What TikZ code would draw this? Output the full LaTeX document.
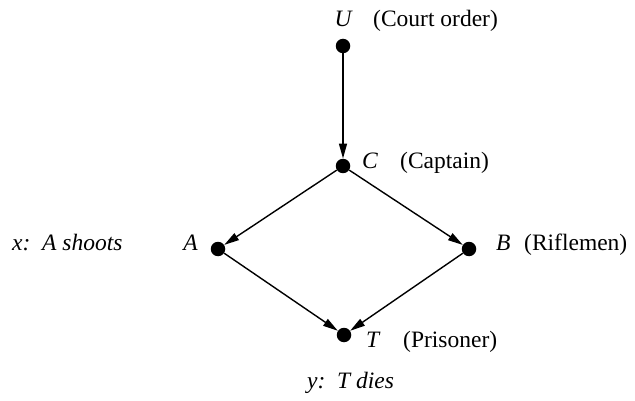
\documentclass[tikz,border=0pt]{standalone}
\usepackage{fontspec}
\setmainfont{Liberation Serif}
\usetikzlibrary{arrows.meta}
\begin{document}
\begin{tikzpicture}[x=1pt,y=-1pt,
  dot/.style={circle,fill=black,inner sep=0pt,minimum size=14.5pt},
  lbl/.style={inner sep=0pt,font=\fontsize{23.5}{27}\selectfont},
  arr/.style={line width=1.4pt,-{Triangle[length=15pt,width=8pt]}}]
\useasboundingbox (0,0) rectangle (635,401);
\node[dot] (U) at (343,46) {};
\node[dot] (C) at (343,166) {};
\node[dot] (A) at (218,249) {};
\node[dot] (B) at (469,249) {};
\node[dot] (T) at (344,335) {};
\draw[arr] (U) -- (C);
\draw[arr] (C) -- (A);
\draw[arr] (C) -- (B);
\draw[arr] (A) -- (T);
\draw[arr] (B) -- (T);
\node[lbl,anchor=base] (lU) at (343,27) {\itshape U};
\node[lbl,anchor=base west] (lUt) at (373,27) {(Court order)};
\node[lbl,anchor=base west] (lC) at (362,169) {\itshape C};
\node[lbl,anchor=base west] (lCt) at (400,169) {(Captain)};
\node[lbl,anchor=base east] (lA) at (198,251) {\itshape A};
\node[lbl,anchor=base west] (lx) at (12,251) {\itshape x:\ \ A shoots};
\node[lbl,anchor=base west] (lB) at (496,251) {\itshape B};
\node[lbl,anchor=base west] (lBt) at (524,251) {(Riflemen)};
\node[lbl,anchor=base west] (lT) at (366,347) {\itshape T};
\node[lbl,anchor=base west] (lTt) at (403,347) {(Prisoner)};
\node[lbl,anchor=base west] (ly) at (307,388) {\itshape y:\ \ T dies};
\end{tikzpicture}
\end{document}
